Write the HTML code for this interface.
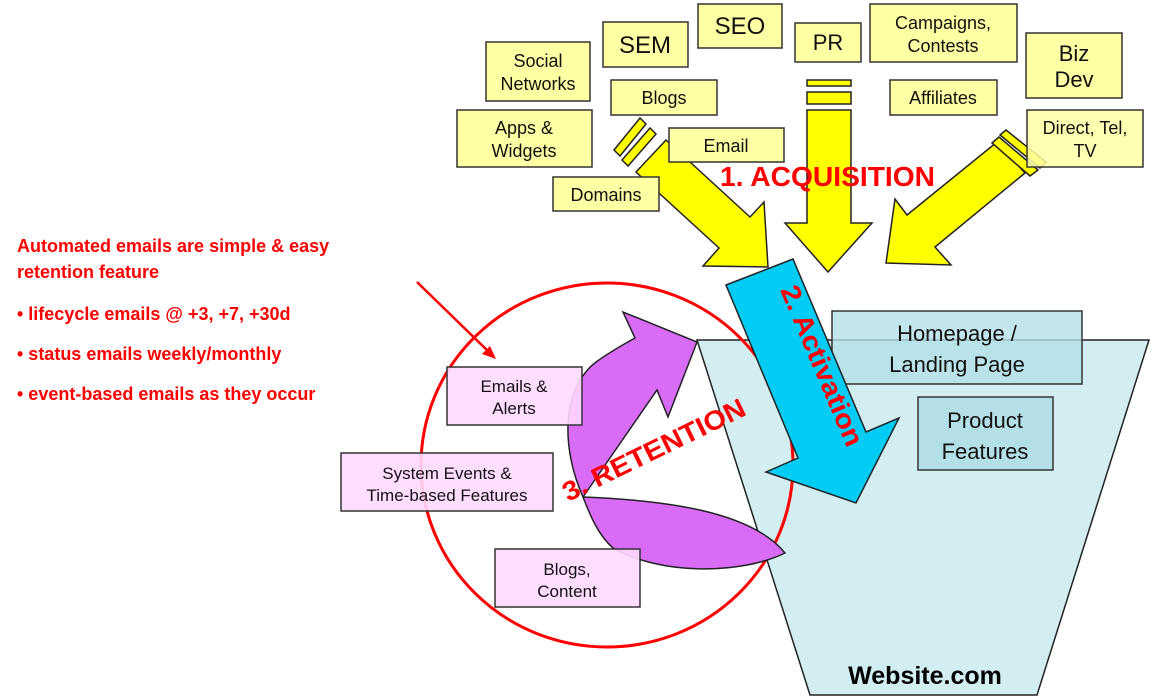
<!DOCTYPE html>
<html><head><meta charset="utf-8"><style>
html,body{margin:0;padding:0;background:#fff;}
svg{display:block;}
.y{fill:#ffffa3;stroke:#333;stroke-width:1.5;}
.p{fill:#ffd9ff;stroke:#333;stroke-width:1.5;}
text{font-family:"Liberation Sans",Arial,sans-serif;}
</style></head><body>
<svg width="1170" height="697" viewBox="0 0 1170 697" xmlns="http://www.w3.org/2000/svg">
<polygon points="697,340 1149,340 1037,695 810,695" fill="#d3eef1" stroke="#222" stroke-width="1.5"/>
<ellipse cx="607" cy="465" rx="186" ry="182" fill="none" stroke="#f00" stroke-width="3"/>
<g fill="#ffff00" stroke="#222" stroke-width="1.5">
<polygon points="636,172 666,140 750,217 764,202 768,267 703,266 719,248"/>
<polygon points="614,150 640,118 646,124 620,156"/>
<polygon points="622,160 650,128 656,134 628,166"/>
<polygon points="807,110 851,110 851,223 872,223 828,272 785,223 807,223"/>
<rect x="807" y="80" width="44" height="6"/>
<rect x="807" y="92" width="44" height="12"/>
<polygon points="997,142 1025,173 935,247 951,265 886,263 895,199 907,215"/>
<polygon points="1000,135 1006,130 1046,162 1040,168"/>
<polygon points="992,143 999,137 1038,170 1030,176"/>
</g>
<g class="y">
<rect x="486" y="42" width="104" height="59"/>
<rect x="603" y="22" width="85" height="45"/>
<rect x="698" y="4" width="84" height="44"/>
<rect x="795" y="23" width="66" height="39"/>
<rect x="870" y="4" width="147" height="58"/>
<rect x="1026" y="33" width="96" height="65"/>
<rect x="611" y="80" width="106" height="35"/>
<rect x="890" y="80" width="107" height="35"/>
<rect x="457" y="110" width="135" height="57"/>
<rect x="669" y="128" width="115" height="34"/>
<rect x="1027" y="110" width="116" height="57" fill-opacity="0.85"/>
<rect x="553" y="177" width="106" height="34"/>
</g>
<g font-size="18" fill="#111" text-anchor="middle">
<text x="538" y="67">Social</text><text x="538" y="90">Networks</text>
<text x="645" y="53" font-size="24">SEM</text>
<text x="740" y="34" font-size="24">SEO</text>
<text x="828" y="50" font-size="22">PR</text>
<text x="943" y="29">Campaigns,</text><text x="943" y="52">Contests</text>
<text x="1074" y="61" font-size="22">Biz</text><text x="1074" y="87" font-size="22">Dev</text>
<text x="664" y="104">Blogs</text>
<text x="943" y="104">Affiliates</text>
<text x="524" y="134">Apps &amp;</text><text x="524" y="157">Widgets</text>
<text x="726" y="152">Email</text>
<text x="1085" y="134">Direct, Tel,</text><text x="1085" y="157">TV</text>
<text x="606" y="201">Domains</text>
</g>
<text x="720" y="186" font-size="28" font-weight="bold" fill="#f00" textLength="215" lengthAdjust="spacingAndGlyphs">1. ACQUISITION</text>
<rect x="832" y="311" width="250" height="73" fill="#b3e0e6" fill-opacity="0.8" stroke="#333" stroke-width="1.5"/>
<text x="957" y="341" font-size="22" text-anchor="middle" fill="#111">Homepage /</text>
<text x="957" y="372" font-size="22" text-anchor="middle" fill="#111">Landing Page</text>
<rect x="918" y="397" width="135" height="73" fill="#b3e0e6" stroke="#333" stroke-width="1.5"/>
<text x="985" y="428" font-size="22" text-anchor="middle" fill="#111">Product</text>
<text x="985" y="459" font-size="22" text-anchor="middle" fill="#111">Features</text>
<polygon points="726,285 793,259 866,432 899,418 856,503 766,472 798,458" fill="#00ccf5" stroke="#222" stroke-width="1.5"/>
<text transform="translate(780,290) rotate(67)" font-size="27" font-weight="bold" fill="#f00" textLength="172" lengthAdjust="spacingAndGlyphs">2. Activation</text>
<g fill="#d86cf7" stroke="#222" stroke-width="1.5">
<path d="M583,497 C562,450 560,390 596,362 C610,352 624,344 635,338 L623,312 L697,342 L668,417 L657,390 Z"/>
<path d="M583,497 C660,500 750,510 785,553 C740,575 660,575 613,548 C598,535 590,515 583,497 Z"/>
</g>
<g class="p" fill-opacity="0.9">
<rect x="447" y="367" width="135" height="58"/>
<rect x="341" y="453" width="212" height="58"/>
<rect x="495" y="549" width="145" height="58"/>
</g>
<g font-size="17" fill="#111" text-anchor="middle">
<text x="514" y="392">Emails &amp;</text><text x="514" y="414">Alerts</text>
<text x="447" y="479">System Events &amp;</text><text x="447" y="501">Time-based Features</text>
<text x="567" y="575">Blogs,</text><text x="567" y="597">Content</text>
</g>
<text transform="translate(568,502) rotate(-26)" font-size="27" font-weight="bold" fill="#f00" textLength="200" lengthAdjust="spacingAndGlyphs">3. RETENTION</text>
<line x1="417" y1="282" x2="491" y2="354" stroke="#f00" stroke-width="2.5"/>
<polygon points="496,359 482,354 490,346" fill="#f00"/>
<g font-size="18" font-weight="bold" fill="#f00">
<text x="17" y="252">Automated emails are simple &amp; easy</text>
<text x="17" y="278">retention feature</text>
<text x="17" y="320">• lifecycle emails @ +3, +7, +30d</text>
<text x="17" y="360">• status emails weekly/monthly</text>
<text x="17" y="400">• event-based emails as they occur</text>
</g>
<text x="925" y="684" font-size="25" font-weight="bold" fill="#000" text-anchor="middle">Website.com</text>
</svg>
</body></html>
